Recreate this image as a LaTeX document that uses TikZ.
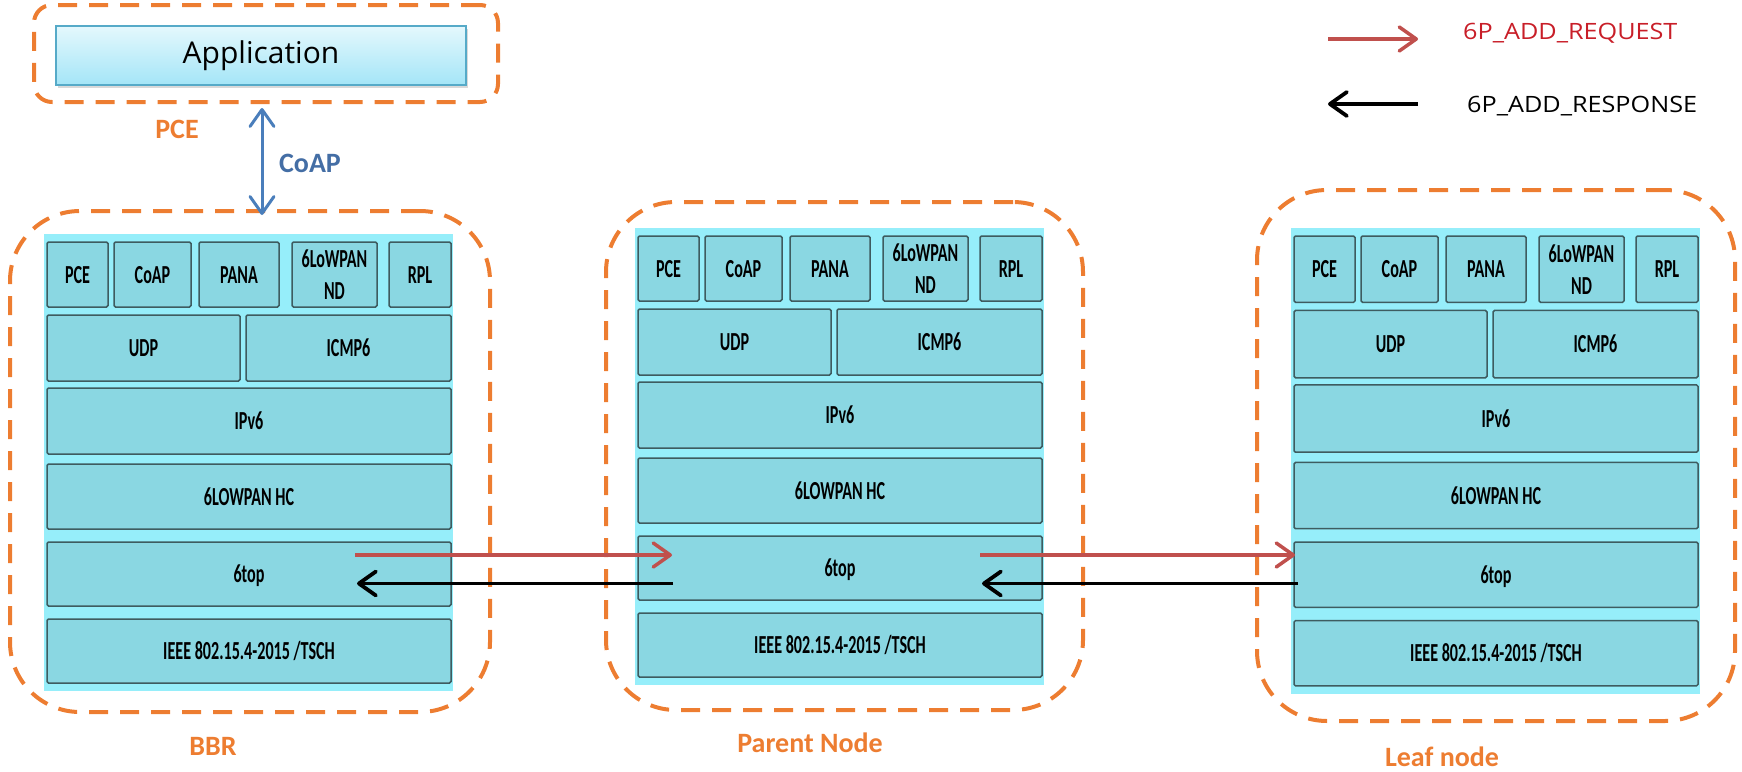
\documentclass[tikz,border=0pt]{standalone}
\usepackage{fontspec}
\setmainfont{Carlito}
\newfontfamily\stackfont[FakeStretch=0.62]{Carlito}
\newfontfamily\uifont{Open Sans}
\newfontfamily\keyfont[FakeStretch=1.12]{Open Sans}
\usetikzlibrary{arrows.meta,shadows}

\definecolor{grporange}{RGB}{237,125,49}
\definecolor{layerfill}{RGB}{138,215,226}
\definecolor{stackbg}{RGB}{150,238,250}
\definecolor{layerline}{RGB}{62,92,96}
\definecolor{reqred}{RGB}{192,80,77}
\definecolor{reqtext}{RGB}{200,30,40}
\definecolor{coapblue}{RGB}{74,126,187}
\definecolor{coaptext}{RGB}{68,110,165}
\definecolor{appline}{RGB}{86,170,200}
\definecolor{apptop}{RGB}{228,248,253}
\definecolor{appbot}{RGB}{164,229,247}

\tikzset{
  grp/.style={draw=grporange, line width=4pt, dash pattern=on 19pt off 12pt,
    rounded corners=70pt, anchor=north west, inner sep=0pt, outer sep=0pt},
  layer/.style={anchor=north west, draw=layerline, fill=layerfill, line width=1.5pt,
    rounded corners=1.5pt, inner sep=0pt, outer sep=0pt, align=center,
    font=\stackfont\bfseries\fontsize{26pt}{32pt}\selectfont,
    text height=17pt, text depth=0pt},
  grplabel/.style={text=grporange, font=\bfseries\fontsize{28pt}{32pt}\selectfont},
  barb/.tip={Straight Barb[length=17pt,width=24pt,round]},
  req/.style={draw=reqred, line width=3.5pt, -barb},
  rsp/.style={draw=black, line width=3.8pt, -barb},
  coaplink/.style={draw=coapblue, line width=3pt, barb-barb},
  legendtext/.style={anchor=base west, inner sep=0pt, font=\keyfont\fontsize{22.5pt}{26pt}\selectfont},
}

% one protocol stack: #1 name prefix, #2 left x, #3 top y, #4 vertical stretch
\newcommand\layerstack[4]{%
  \fill[stackbg] ({#2-3},{#3-8}) rectangle ({#2+406},{#3+442*#4+7});
  \node[layer, minimum width=61pt, minimum height={65*#4}] (#1-pce) at (#2,#3) {PCE};
  \node[layer, minimum width=77pt, minimum height={65*#4}] (#1-coap) at ({#2+67},#3) {CoAP};
  \node[layer, minimum width=80pt, minimum height={65*#4}] (#1-pana) at ({#2+152},#3) {PANA};
  \node[layer, minimum width=85pt, minimum height={65*#4}, text height={}, text depth={}]
    (#1-nd) at ({#2+245},#3) {6LoWPAN\\ND};
  \node[layer, minimum width=62pt, minimum height={65*#4}] (#1-rpl) at ({#2+342},#3) {RPL};
  \node[layer, minimum width=193pt, minimum height={66*#4}] (#1-udp) at (#2,{#3+73*#4}) {UDP};
  \node[layer, minimum width=205pt, minimum height={66*#4}] (#1-icmp) at ({#2+199},{#3+73*#4}) {ICMP6};
  \node[layer, minimum width=404pt, minimum height={66*#4}] (#1-ipv6) at (#2,{#3+146*#4}) {IPv6};
  \node[layer, minimum width=404pt, minimum height={65*#4}] (#1-hc) at (#2,{#3+222*#4}) {6LOWPAN HC};
  \node[layer, minimum width=404pt, minimum height={64*#4}] (#1-sixtop) at (#2,{#3+300*#4}) {6top};
  \node[layer, minimum width=404pt, minimum height={64*#4}] (#1-mac) at (#2,{#3+377*#4}) {IEEE 802.15.4-2015 /TSCH};
}

\begin{document}
\begin{tikzpicture}[x=1pt,y=-1pt]
\useasboundingbox (0,0) rectangle (1742,771);

% PCE application
\node[grp, rounded corners=18pt, minimum width=464pt, minimum height=97pt] (appgrp) at (34,5) {};
\node[draw=appline, line width=2pt, top color=apptop, bottom color=appbot,
  minimum width=410pt, minimum height=59pt, inner sep=0pt,
  drop shadow={shadow xshift=2pt, shadow yshift=-3pt, opacity=0.3},
  font=\uifont\fontsize{30pt}{32pt}\selectfont] (app) at (261,55.5) {Application};
\node[grplabel] (pcelbl) at (177,129) {PCE};

% node groups
\node[grp, minimum width=480pt, minimum height=501pt] (bbr) at (10,211) {};
\node[grp, minimum width=477pt, minimum height=508pt] (parent) at (606,202) {};
\node[grp, minimum width=478pt, minimum height=531pt] (leaf) at (1257,190) {};

\layerstack{b}{47}{242}{1}
\layerstack{p}{638}{236}{1}
\layerstack{l}{1294}{236}{1.02}

\node[grplabel] (bbrlbl) at (213,746) {BBR};
\node[grplabel] (parentlbl) at (810,743) {Parent Node};
\node[grplabel] (leaflbl) at (1442,757) {Leaf node};

% CoAP link between PCE and BBR
\draw[coaplink] ([xshift=-4pt,yshift=-6pt]appgrp.south) -- ([xshift=-4pt,yshift=-4pt]appgrp.south |- bbr.north);
\node[text=coaptext, font=\bfseries\fontsize{28pt}{32pt}\selectfont] (coaplbl) at (310,163) {CoAP};

% 6P transactions
\coordinate (reqlvl) at (0,555);
\coordinate (rsplvl) at (0,583.5);
\draw[req] ([xshift=-96pt]b-sixtop.east |- reqlvl) -- ([xshift=34pt]p-sixtop.west |- reqlvl);
\draw[rsp] ([xshift=35pt]p-sixtop.west |- rsplvl) -- ([xshift=-94pt]b-sixtop.east |- rsplvl);
\draw[req] ([xshift=-62pt]p-sixtop.east |- reqlvl) -- ([xshift=1pt]l-sixtop.west |- reqlvl);
\draw[rsp] ([xshift=4pt]l-sixtop.west |- rsplvl) -- ([xshift=-60pt]p-sixtop.east |- rsplvl);

% legend
\node[legendtext, text=reqtext] (reqkey) at (1463,39) {6P\_ADD\_REQUEST};
\node[legendtext, text=black] (rspkey) at (1467,112) {6P\_ADD\_RESPONSE};
\draw[req] ([xshift=-135pt]reqkey.base west) -- ([xshift=-45pt]reqkey.base west);
\draw[rsp] ([xshift=-49pt,yshift=8pt]rspkey.base west) -- ([xshift=-139pt,yshift=8pt]rspkey.base west);
\end{tikzpicture}
\end{document}
